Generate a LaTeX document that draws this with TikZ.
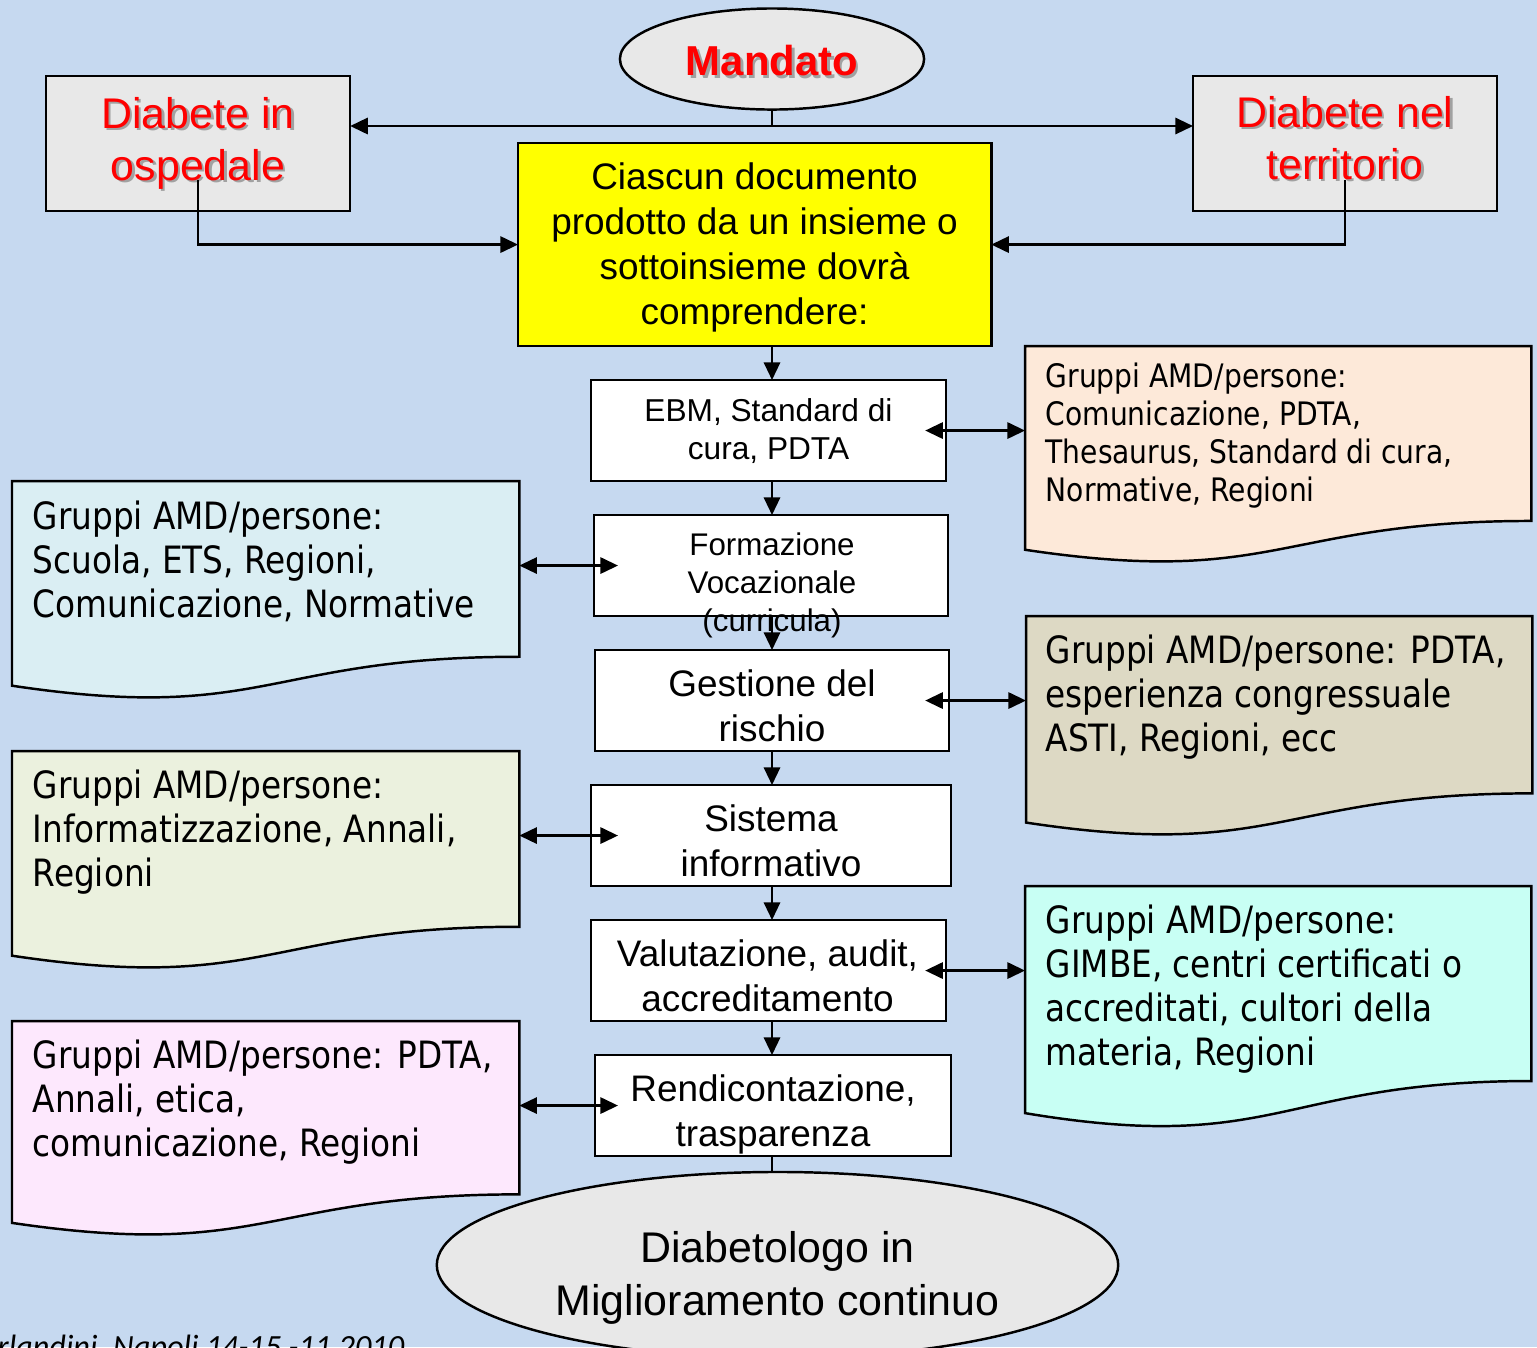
\documentclass[tikz,border=0pt]{standalone}
\usepackage{fontspec}
\setmainfont{Liberation Sans}
\newfontfamily\tah[FakeStretch=0.87]{DejaVu Sans}
\newfontfamily\calfont{Carlito}
\usetikzlibrary{arrows.meta,shapes.geometric,calc}
\definecolor{bgblue}{RGB}{198,217,240}
\definecolor{lgray}{RGB}{232,232,232}
\definecolor{yel}{RGB}{255,255,0}
\definecolor{docA}{RGB}{218,238,243}
\definecolor{docB}{RGB}{235,241,222}
\definecolor{docC}{RGB}{253,232,253}
\definecolor{docD}{RGB}{253,233,217}
\definecolor{docE}{RGB}{221,217,196}
\definecolor{docF}{RGB}{200,255,244}
\newcommand\docpath[2]{%
  \draw[line width=0.7pt, fill=#2] (#1.north west) -- (#1.north east)
   -- ($(#1.north east)!0.802!(#1.south east)$)
   .. controls ($(#1.north)!0.802!(#1.south)$) and ($(#1.north)!1.1075!(#1.south)$)
   .. ($(#1.north west)!0.934!(#1.south west)$) -- cycle;}
\begin{document}
\begin{tikzpicture}[x=0.01cm,y=-0.01cm,
  box/.style={draw, line width=0.7pt, anchor=north west, inner sep=0pt, outer sep=0pt},
  docarea/.style={anchor=north west, inner sep=0pt, outer sep=0pt},
  arr/.style={line width=0.7pt, -{Triangle[length=5pt,width=4.6pt]}},
  dbl/.style={line width=0.7pt, {Triangle[length=5pt,width=4.6pt]}-{Triangle[length=5pt,width=4.6pt]}},
  ln/.style={line width=0.7pt},
  ctext/.style={align=center, inner sep=0pt, font=\fontsize{10.5}{12.8}\selectfont},
  stext/.style={align=center, inner sep=0pt, font=\fontsize{8.9}{10.8}\selectfont},
  dtext/.style={align=left, inner sep=0pt, anchor=west, font=\tah\fontsize{10.7}{12.5}\selectfont},
  redtext/.style={align=center, inner sep=0pt, text=red, font=\fontsize{12.2}{14.8}\selectfont},
  shadowtext/.style={align=center, inner sep=0pt, text=black, opacity=0.3, font=\fontsize{12.2}{14.8}\selectfont},
]
\useasboundingbox (0,0) rectangle (1537,1347);
\clip (0,0) rectangle (1537,1347);
\fill[bgblue] (0,0) rectangle (1537,1347);

% top ellipse
\node[ellipse, draw, line width=0.7pt, fill=lgray, minimum width=3.04cm, minimum height=1.01cm, inner sep=0pt] (mand) at (772,59) {};
\node[shadowtext, font=\bfseries\fontsize{11.9}{14}\selectfont] (mandS) at (774.5,63.5) {Mandato};
\node[redtext, font=\bfseries\fontsize{11.9}{14}\selectfont] (mandT) at (772,61) {Mandato};

% side boxes
\node[box, fill=lgray, minimum width=3.04cm, minimum height=1.35cm] (dio) at (46,76) {};
\node[shadowtext] (dioS) at (200.5,145.5) {Diabete in\\ospedale};
\node[redtext] (dioT) at (198,143) {Diabete in\\ospedale};
\node[box, fill=lgray, minimum width=3.04cm, minimum height=1.35cm] (dnt) at (1193,76) {};
\node[shadowtext] (dntS) at (1347.5,140.5) {Diabete nel\\territorio};
\node[redtext] (dntT) at (1345,138) {Diabete nel\\territorio};

% yellow box
\node[box, fill=yel, minimum width=4.73cm, minimum height=2.03cm] (yelbox) at (518,143) {};
\node[ctext] (yelT) at (754.5,247.5) {Ciascun documento\\prodotto da un insieme o\\sottoinsieme dovrà\\comprendere:};

% central chain
\node[box, fill=white, minimum width=3.55cm, minimum height=1.01cm] (ebm) at (591,380) {};
\node[stext, font=\fontsize{9}{10.8}\selectfont] (ebmT) at (768.5,431) {EBM, Standard di\\cura, PDTA};
\node[box, fill=white, minimum width=3.54cm, minimum height=1.01cm] (form) at (594,515) {};
\node[stext] (formT) at (772,585) {Formazione\\Vocazionale\\(curricula)};
\node[box, fill=white, minimum width=3.54cm, minimum height=1.01cm] (gest) at (595,650) {};
\node[ctext] (gestT) at (772,706) {Gestione del\\rischio};
\node[box, fill=white, minimum width=3.60cm, minimum height=1.01cm] (sist) at (591,785) {};
\node[ctext] (sistT) at (771,841) {Sistema\\informativo};
\node[box, fill=white, minimum width=3.55cm, minimum height=1.01cm] (val) at (591,920) {};
\node[ctext] (valT) at (767.5,976) {Valutazione, audit,\\accreditamento};
\node[box, fill=white, minimum width=3.56cm, minimum height=1.01cm] (rend) at (595,1055) {};
\node[ctext] (rendT) at (773,1114) {Rendicontazione,\\trasparenza};

% bottom ellipse
\node[ellipse, draw, line width=0.7pt, fill=lgray, minimum width=6.81cm, minimum height=1.86cm, inner sep=0pt] (diab) at (777.5,1265) {};
\node[align=center, inner sep=0pt, font=\fontsize{12.2}{15.1}\selectfont] (diabT) at (777.5,1278) {Diabetologo in\\Miglioramento continuo};

% document shapes
\node[docarea, minimum width=5.07cm, minimum height=2.19cm] (L1) at (12,481) {};
\docpath{L1}{docA}
\node[docarea, minimum width=5.07cm, minimum height=2.19cm] (L2) at (12,751) {};
\docpath{L2}{docB}
\node[docarea, minimum width=5.07cm, minimum height=2.16cm] (L3) at (12,1021) {};
\docpath{L3}{docC}
\node[docarea, minimum width=5.06cm, minimum height=2.18cm] (R1) at (1025,346) {};
\docpath{R1}{docD}
\node[docarea, minimum width=5.06cm, minimum height=2.21cm] (R2) at (1026,616) {};
\docpath{R2}{docE}
\node[docarea, minimum width=5.06cm, minimum height=2.43cm] (R3) at (1025,886) {};
\docpath{R3}{docF}

\node[dtext] (L1T) at (32,561) {Gruppi AMD/persone:\\Scuola, ETS, Regioni,\\Comunicazione, Normative};
\node[dtext] (L2T) at (32,832) {Gruppi AMD/persone:\\Informatizzazione, Annali,\\Regioni};
\node[dtext] (L3T) at (32,1102) {Gruppi AMD/persone: PDTA,\\Annali, etica,\\comunicazione, Regioni};
\node[dtext, font=\tah\fontsize{9.2}{10.8}\selectfont] (R1T) at (1045,436) {Gruppi AMD/persone:\\Comunicazione, PDTA,\\Thesaurus, Standard di cura,\\Normative, Regioni};
\node[dtext] (R2T) at (1045,697) {Gruppi AMD/persone: PDTA,\\esperienza congressuale\\ASTI, Regioni, ecc};
\node[dtext] (R3T) at (1045,989) {Gruppi AMD/persone:\\GIMBE, centri certificati o\\accreditati, cultori della\\materia, Regioni};

% footer
\node[anchor=base east, inner sep=0pt, font=\calfont\itshape\fontsize{9.2}{11}\selectfont] (foot) at (405,1357) {Orlandini, Napoli 14-15 -11 2010};

% connectors
\coordinate (sp) at (772,0);
\coordinate (junc) at (772,126);
\draw[ln] (mand.south) -- (junc);
\draw[arr] (junc) -- (junc -| dio.east);
\draw[arr] (junc) -- (junc -| dnt.west);
\draw[arr] ($(dio.center)+(0,36)$) |- (yelbox.west);
\draw[arr] ($(dnt.center)+(0,36)$) |- (yelbox.east);
\draw[arr] (yelbox.south -| sp) -- (ebm.north -| sp);
\draw[arr] (ebm.south -| sp) -- (form.north -| sp);
\draw[arr] (form.south -| sp) -- (gest.north -| sp);
\draw[arr] (gest.south -| sp) -- (sist.north -| sp);
\draw[arr] (sist.south -| sp) -- (val.north -| sp);
\draw[arr] (val.south -| sp) -- (rend.north -| sp);
\draw[ln] (rend.south -| sp) -- (diab.north -| sp);

\draw[dbl] ($(ebm.east)+(-21,0)$) -- (R1.west |- ebm.east);
\draw[dbl] (L1.east |- form.west) -- ($(form.west)+(24,0)$);
\draw[dbl] ($(gest.east)+(-24,0)$) -- (R2.west |- gest.east);
\draw[dbl] (L2.east |- sist.west) -- ($(sist.west)+(27,0)$);
\draw[dbl] ($(val.east)+(-21,0)$) -- (R3.west |- val.east);
\draw[dbl] (L3.east |- rend.west) -- ($(rend.west)+(23,0)$);
\end{tikzpicture}
\end{document}
